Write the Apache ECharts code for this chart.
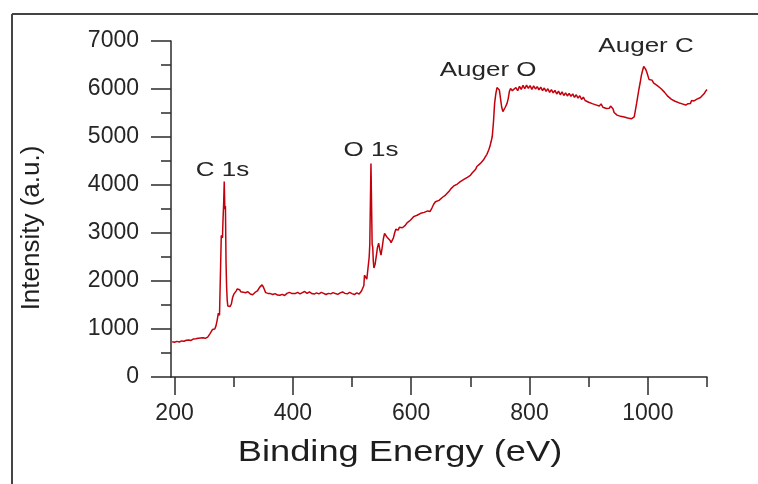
<!DOCTYPE html>
<html>
<head>
<meta charset="utf-8">
<script src="https://cdn.jsdelivr.net/npm/echarts@6/dist/echarts.min.js"></script>
<style>
  html, body { margin: 0; padding: 0; background: #ffffff; }
  #chart { width: 758px; height: 484px; }
</style>
</head>
<body>
<div id="chart"></div>
<script>
// XPS survey spectrum: binding energy (eV) vs intensity (a.u.)
const bindingEnergy = [
  196,200,204,208,212,216,220,224,228,232,236,240,244,248,252,256,258,260,262,264,266,268,270,272,274,276,277,278,
  279,280,281,282,283,284,285,286,287,288,289,290,292,294,296,298,300,302,304,306,308,310,312,314,316,318,320,322,
  324,326,328,330,332,334,336,338,340,342,344,346,348,350,352,354,356,358,360,362,364,366,370,374,378,382,386,390,
  394,396,398,400,404,408,412,416,420,424,428,432,436,440,444,448,452,456,460,464,468,472,476,480,484,488,492,496,
  500,504,508,512,516,518,520,521,523,525,527,529,530,531,532,533,534,535,536,537,539,541,543,545,547,549,551,553,
  555,557,560,562,564,566,568,570,572,574,576,578,580,582,585,587,590,593,596,599,602,604,607,610,613,616,619,622,
  625,628,630,632,635,638,641,644,647,650,653,655,658,661,664,667,669,672,675,678,681,683,686,689,692,695,697,700,
  703,706,709,711,714,717,720,722,725,728,731,733,735,737,739,741,743,745,747,749,751,753,755,757,759,762,764,766,
  768,771,774,777,780,783,786,789,792,795,798,801,804,807,810,813,816,819,822,825,828,831,834,837,840,843,846,849,
  852,855,858,861,864,867,870,873,876,879,882,885,888,891,894,897,900,903,906,909,912,915,918,921,924,927,930,933,
  935,937,939,941,943,945,948,951,954,957,960,963,966,969,972,975,977,979,981,983,985,987,989,991,993,994,996,998,
  1000,1002,1004,1007,1010,1013,1016,1019,1022,1025,1028,1031,1034,1037,1040,1043,1046,1049,1052,1055,1058,1061,
  1064,1066,1068,1070,1072,1074,1076,1078,1080,1083,1086,1089,1092,1095,1098,1100
];
const intensity = [
  735,725,742,730,752,744,765,770,762,792,798,806,812,818,806,832,862,905,940,988,1012,998,1065,1180,1330,1285,1250,1320,
  2950,2965,2900,3300,3610,4070,3500,3560,2400,1880,1600,1480,1495,1470,1520,1650,1720,1695,1790,1835,1800,1818,1775,1805,1768,1795,1755,1748,
  1778,1738,1728,1748,1715,1738,1762,1738,1792,1812,1872,1902,1920,1878,1818,1758,1778,1742,1762,1738,1756,1718,1738,1708,1702,1722,1698,1742,
  1762,1795,1742,1772,1738,1762,1732,1758,1782,1742,1772,1738,1728,1752,1732,1762,1742,1718,1742,1732,1758,1738,1722,1752,1772,1742,1732,1762,
  1738,1718,1752,1728,1792,1832,1905,2120,2135,2040,2020,2500,2760,2740,4450,4450,2770,2700,2400,2270,2350,2520,2700,2790,2650,2540,2700,2880,
  2990,2950,2900,2880,2850,2800,2790,2900,3000,3080,3100,3060,3120,3085,3110,3080,3160,3210,3185,3270,3310,3340,3315,3370,3400,3410,3385,3430,
  3415,3460,3435,3450,3520,3600,3650,3635,3680,3700,3745,3760,3790,3830,3870,3920,3960,3980,3955,4020,4050,4070,4080,4115,4130,4160,4175,4200,
  4250,4290,4330,4385,4420,4450,4490,4520,4580,4640,4730,4800,4900,5010,5300,5700,5900,6030,6020,5980,5800,5620,5530,5560,5620,5700,5800,5950,
  6010,5965,5995,6030,5965,6055,5990,6075,6005,6080,6015,6070,5990,6065,6000,6050,5980,6040,5965,6020,5950,6005,5930,5985,5920,5970,5895,5955,
  5880,5940,5865,5920,5855,5910,5845,5900,5825,5880,5810,5860,5780,5830,5760,5785,5725,5755,5695,5725,5670,5705,5645,5690,5620,5650,5595,5605,
  5600,5645,5670,5590,5510,5495,5455,5470,5430,5455,5415,5440,5395,5420,5380,5400,5420,5560,5700,5850,6000,6130,6280,6380,6470,6500,6420,6360,
  6330,6200,6160,6185,6120,6140,6070,6085,6010,6005,5935,5905,5845,5850,5785,5795,5745,5760,5715,5730,5690,5715,
  5665,5650,5695,5710,5700,5760,5740,5752,5772,5790,5805,5822,5855,5900,5960,5990
];

// Tick values
const xMajorTicks = [200, 400, 600, 800, 1000];
const xMinorTicks = [300, 500, 700, 900, 1100];

// Peak annotations (placed in data coordinates)
const peakNames = ['C 1s', 'O 1s', 'Auger O', 'Auger C'];
const peakLabelEnergy = [281, 532, 730, 997];
const peakLabelIntensity = [4300, 4720, 6390, 6880];

const points = bindingEnergy.map((e, i) => [e, intensity[i]]);

const chart = echarts.init(document.getElementById('chart'), null, { renderer: 'canvas' });

const textColor = '#262626';
const axisColor = '#2b2b2b';
const plainNumber = v => String(v);

const option = {
  animation: false,
  backgroundColor: '#ffffff',
  grid: { left: 171, right: 51, top: 41, bottom: 107, containLabel: false },
  xAxis: [
    {
      type: 'value', min: 194, max: 1100, position: 'bottom',
      axisLine: { show: true, onZero: false, lineStyle: { color: axisColor, width: 1.5 } },
      axisTick: { show: true, inside: false, length: 18, customValues: xMajorTicks, lineStyle: { color: axisColor, width: 1.5 } },
      axisLabel: { show: true, customValues: xMajorTicks, formatter: plainNumber, margin: 25, color: textColor, fontSize: 23, fontFamily: 'Liberation Sans, Arial, sans-serif' },
      splitLine: { show: false }
    },
    {
      type: 'value', min: 194, max: 1100, position: 'bottom', gridIndex: 0,
      axisLine: { show: false, onZero: false },
      axisTick: { show: true, inside: false, length: 10, customValues: xMinorTicks, lineStyle: { color: axisColor, width: 1.5 } },
      axisLabel: { show: false },
      splitLine: { show: false }
    }
  ],
  yAxis: {
    type: 'value', min: 0, max: 7000, interval: 1000,
    axisLine: { show: true, onZero: false, lineStyle: { color: axisColor, width: 1.5 } },
    axisTick: { show: true, inside: false, length: 20, lineStyle: { color: axisColor, width: 1.5 } },
    minorTick: { show: true, splitNumber: 2, length: 10, lineStyle: { color: axisColor, width: 1.5 } },
    axisLabel: { margin: 32, formatter: plainNumber, color: textColor, fontSize: 23, fontFamily: 'Liberation Sans, Arial, sans-serif' },
    splitLine: { show: false },
    minorSplitLine: { show: false }
  },
  series: [{
    type: 'line',
    xAxisIndex: 0,
    data: points,
    showSymbol: false,
    symbol: 'none',
    lineStyle: { color: '#c4000c', width: 1.5 },
    z: 3
  }]
};

chart.setOption(option);

// Frame, axis titles and peak labels
const graphics = [
  { type: 'line', shape: { x1: 12, y1: 14, x2: 758, y2: 14 }, style: { stroke: '#444', lineWidth: 2 } },
  { type: 'line', shape: { x1: 12, y1: 14, x2: 12, y2: 484 }, style: { stroke: '#444', lineWidth: 2 } },
  {
    type: 'text', x: 400, y: 453, scaleX: 1.25,
    style: { text: 'Binding Energy (eV)', font: '29px "Liberation Sans", Arial, sans-serif', fill: '#1e1e1e', textAlign: 'center', textVerticalAlign: 'middle' }
  },
  {
    type: 'text', x: 32, y: 228, rotation: Math.PI / 2,
    style: { text: 'Intensity (a.u.)', font: '26px "Liberation Sans", Arial, sans-serif', fill: '#1e1e1e', textAlign: 'center', textVerticalAlign: 'middle' }
  }
];
peakNames.forEach((name, i) => {
  const p = chart.convertToPixel({ xAxisIndex: 0, yAxisIndex: 0 }, [peakLabelEnergy[i], peakLabelIntensity[i]]);
  graphics.push({
    type: 'text', x: p[0], y: p[1], scaleX: 1.3,
    style: { text: name, font: '20px "Liberation Sans", Arial, sans-serif', fill: '#262626', textAlign: 'center', textVerticalAlign: 'middle' }
  });
});
chart.setOption({ graphic: graphics });
</script>
</body>
</html>
